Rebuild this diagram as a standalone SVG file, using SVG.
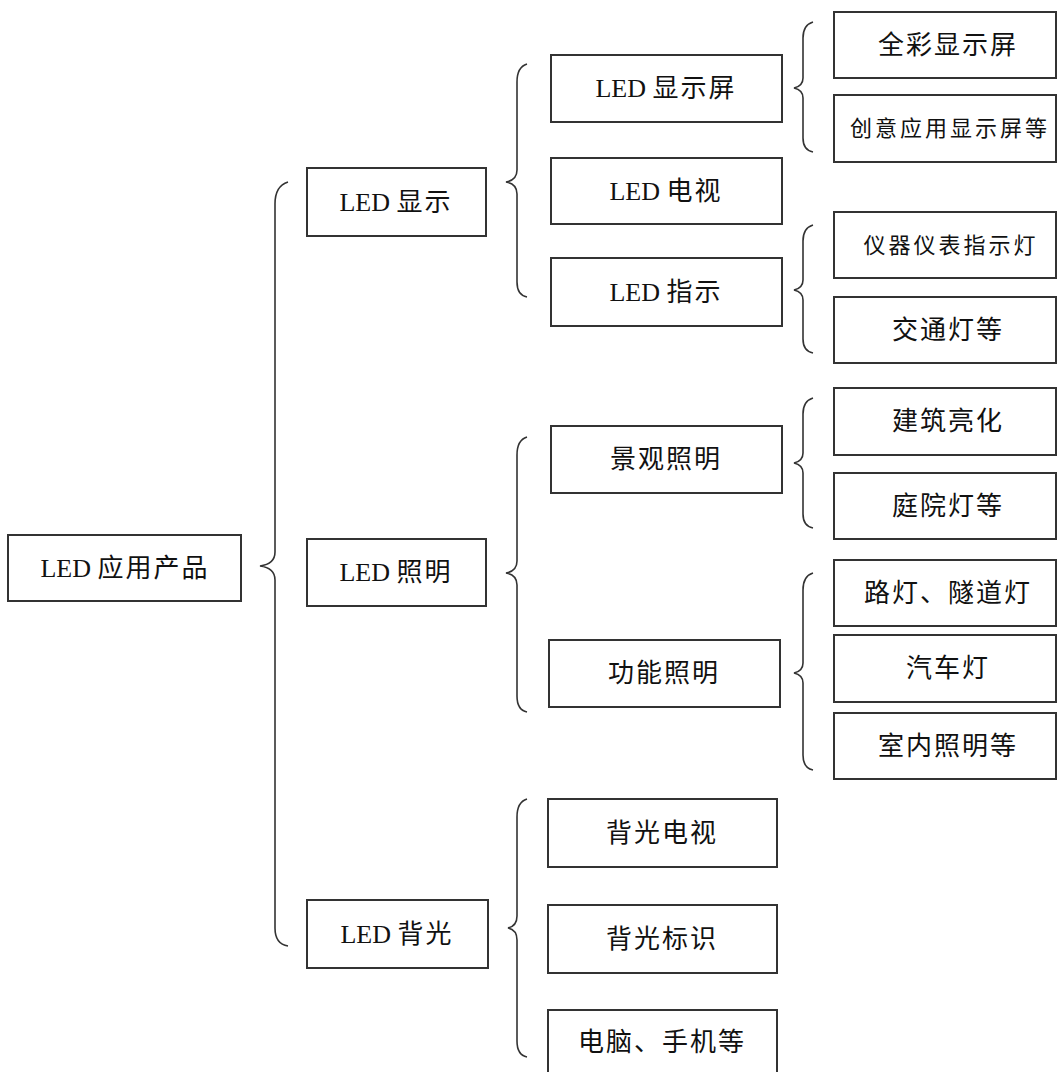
<svg xmlns="http://www.w3.org/2000/svg" width="1058" height="1072" viewBox="0 0 1058 1072">
<style>
.box{fill:#fff;stroke:#333;stroke-width:2}
.br{fill:none;stroke:#333;stroke-width:1.6}
text{font-family:"Liberation Serif","Noto Sans CJK SC",serif;font-size:26px;fill:#111;text-anchor:middle;dominant-baseline:central;letter-spacing:2px}
.s{font-size:22px;letter-spacing:3px}
.l{letter-spacing:0}
</style>
<rect width="1058" height="1072" fill="#fff"/>
<g id="connectors">
<path class="br" d="M288 182 Q275 186 275 204 L275 552 Q275 564 260 566 Q275 568 275 580 L275 928 Q275 944 288 946"/>
<path class="br" d="M527 64 Q517 67 517 82 L517 170 Q517 180 506 182 Q517 184 517 194 L517 282 Q517 295 527 297"/>
<path class="br" d="M527 437 Q517 440 517 455 L517 561 Q517 571 506 573 Q517 575 517 585 L517 696 Q517 710 527 712"/>
<path class="br" d="M527 799 Q517 802 517 817 L517 916 Q517 926 508 928 Q517 930 517 940 L517 1041 Q517 1055 527 1057"/>
<path class="br" d="M813 22 Q803 25 803 38 L803 78 Q803 86 794 88 Q803 90 803 98 L803 138 Q803 150 813 152"/>
<path class="br" d="M813 225 Q803 228 803 241 L803 280 Q803 288 794 290 Q803 292 803 300 L803 339 Q803 351 813 353"/>
<path class="br" d="M813 398 Q803 401 803 414 L803 453 Q803 461 794 463 Q803 465 803 473 L803 514 Q803 526 813 528"/>
<path class="br" d="M813 573 Q803 576 803 590 L803 663 Q803 671 794 673 Q803 675 803 683 L803 755 Q803 768 813 770"/>
</g>
<g id="n-root"><rect class="box" x="8" y="535" width="233" height="66"/><text x="125" y="568"><tspan class="l">LED </tspan>应用产品</text></g>
<g id="n-display"><rect class="box" x="307" y="168" width="179" height="68"/><text x="396" y="202"><tspan class="l">LED </tspan>显示</text></g>
<g id="n-lighting"><rect class="box" x="307" y="539" width="179" height="67"/><text x="396" y="572"><tspan class="l">LED </tspan>照明</text></g>
<g id="n-backlight"><rect class="box" x="307" y="900" width="181" height="68"/><text x="397" y="934"><tspan class="l">LED </tspan>背光</text></g>
<g id="n-screen"><rect class="box" x="551" y="55" width="231" height="67"/><text x="666" y="88"><tspan class="l">LED </tspan>显示屏</text></g>
<g id="n-tv"><rect class="box" x="551" y="158" width="231" height="66"/><text x="666" y="191"><tspan class="l">LED </tspan>电视</text></g>
<g id="n-indicator"><rect class="box" x="551" y="258" width="231" height="68"/><text x="666" y="292"><tspan class="l">LED </tspan>指示</text></g>
<g id="n-landscape"><rect class="box" x="551" y="426" width="231" height="67"/><text x="666" y="459">景观照明</text></g>
<g id="n-functional"><rect class="box" x="549" y="640" width="231" height="67"/><text x="664" y="673">功能照明</text></g>
<g id="n-bltv"><rect class="box" x="548" y="799" width="229" height="68"/><text x="662" y="833">背光电视</text></g>
<g id="n-blsign"><rect class="box" x="548" y="905" width="229" height="68"/><text x="662" y="939">背光标识</text></g>
<g id="n-blpc"><rect class="box" x="548" y="1010" width="229" height="70"/><text x="662" y="1042">电脑、手机等</text></g>
<g id="n-fullcolor"><rect class="box" x="834" y="12" width="222" height="66"/><text x="948" y="45">全彩显示屏</text></g>
<g id="n-creative"><rect class="box" x="834" y="95" width="222" height="67"/><text class="s" x="950" y="128">创意应用显示屏等</text></g>
<g id="n-instrument"><rect class="box" x="834" y="212" width="222" height="66"/><text class="s" x="951" y="245">仪器仪表指示灯</text></g>
<g id="n-traffic"><rect class="box" x="834" y="297" width="222" height="66"/><text x="948" y="330">交通灯等</text></g>
<g id="n-building"><rect class="box" x="834" y="388" width="222" height="67"/><text x="948" y="421">建筑亮化</text></g>
<g id="n-garden"><rect class="box" x="834" y="473" width="222" height="66"/><text x="948" y="506">庭院灯等</text></g>
<g id="n-street"><rect class="box" x="834" y="560" width="222" height="66"/><text x="948" y="593">路灯、隧道灯</text></g>
<g id="n-car"><rect class="box" x="834" y="635" width="222" height="67"/><text x="948" y="668">汽车灯</text></g>
<g id="n-indoor"><rect class="box" x="834" y="713" width="222" height="66"/><text x="948" y="746">室内照明等</text></g>
</svg>
